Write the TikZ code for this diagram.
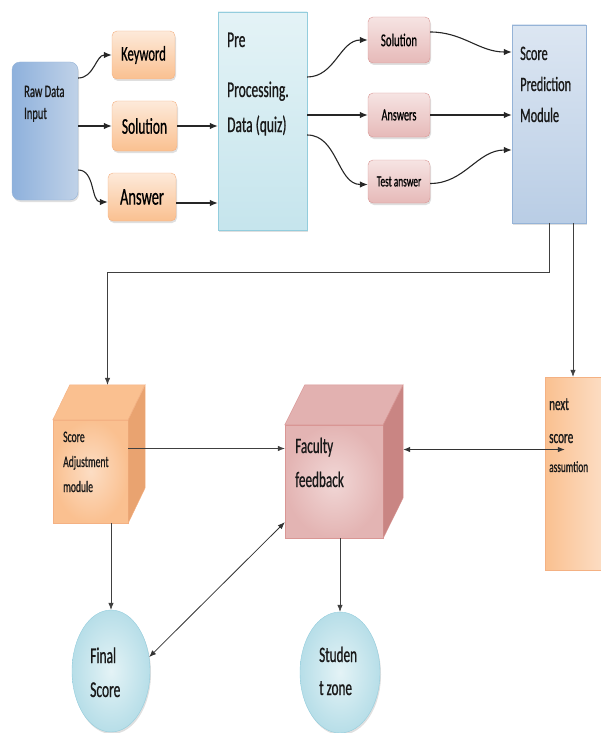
\documentclass[tikz,border=0pt]{standalone}
\usepackage{fontspec}
\setmainfont[FakeStretch=0.6,FakeBold=0.7]{Carlito}
\usetikzlibrary{calc,arrows.meta,positioning,shapes.geometric,shadows}

\definecolor{blueL}{HTML}{DCE6F2}
\definecolor{blueM}{HTML}{B9CDE5}
\definecolor{blueD}{HTML}{8EB1DC}
\definecolor{blueB}{HTML}{95B3D7}
\definecolor{cyanL}{HTML}{E4F3F6}
\definecolor{cyanM}{HTML}{B7DEE8}
\definecolor{cyanB}{HTML}{93CDDD}
\definecolor{orgL}{HTML}{FDEADA}
\definecolor{orgM}{HTML}{FAC090}
\definecolor{orgD}{HTML}{E9A370}
\definecolor{orgB}{HTML}{F4B183}
\definecolor{pinkL}{HTML}{F6E4E3}
\definecolor{pinkM}{HTML}{E6B9B8}
\definecolor{pinkD}{HTML}{C98583}
\definecolor{pinkB}{HTML}{D99694}

\newcommand{\fs}[2]{\fontsize{#1}{#2}\selectfont}

\tikzset{
  every node/.style={inner sep=0pt},
  soft/.style={drop shadow={shadow xshift=1pt,shadow yshift=-2pt,opacity=.25}},
  rawbox/.style={draw=blueB, rounded corners=8pt, left color=blueD, right color=blueM!80!blueL, soft},
  predbox/.style={draw=blueB, top color=blueL, bottom color=blueM, soft},
  prebox/.style={draw=cyanB, top color=cyanL, bottom color=cyanM!80, soft},
  obox/.style={draw=orgB, rounded corners=5pt, top color=orgL, bottom color=orgM, soft},
  pbox/.style={draw=pinkB, rounded corners=5pt, top color=pinkL, bottom color=pinkM, soft},
  ocube/.style={draw=orgB, inner color=orgL!70!orgM, outer color=orgM},
  pcube/.style={draw=pinkB, inner color=pinkL!70!pinkM, outer color=pinkM!90!pinkD},
  nextbox/.style={draw=orgB, left color=orgM, right color=orgL!70!orgM},
  zone/.style={ellipse, draw=cyanB, inner color=cyanL, outer color=cyanM, soft},
  txt/.style={align=left, text=black!90},
  conn/.style={-{Latex[length=8pt,width=6.5pt]}, line width=1.1pt, black!85},
  link/.style={-{Latex[length=7pt,width=5.5pt]}, line width=0.7pt, black!75},
  both/.style={{Latex[length=7pt,width=5.5pt]}-{Latex[length=7pt,width=5.5pt]}, line width=0.8pt, black!80}
}

\begin{document}
\begin{tikzpicture}[x=1pt,y=-1pt]
\useasboundingbox (0,0) rectangle (601,733);

% input side
\node[rawbox, minimum width=66pt, minimum height=138pt] (raw) at (45,131) {};
\node[txt, font=\fs{17.5}{22}, anchor=base west] (raw-t) at (24,119) {Raw Data\\Input};

\node[obox, minimum width=63pt, minimum height=48pt, font=\fs{21}{22}] (key) at (143.5,55) {Keyword};
\node[obox, minimum width=65pt, minimum height=50pt, font=\fs{22.5}{23}] (sol1) at (144.5,126) {Solution};
\node[obox, minimum width=68pt, minimum height=48pt, font=\fs{24}{25}] (ans1) at (142,197) {Answer};

\node[prebox, minimum width=89pt, minimum height=218pt] (pre) at (262.5,121) {};
\node[txt, font=\fs{22.5}{35}, anchor=base west] (pre-t) at (227,132) {Pre\\[15pt]Processing.\\Data (quiz)};

\node[pbox, minimum width=62pt, minimum height=46pt, font=\fs{18}{19}] (sol2) at (399,40) {Solution};
\node[pbox, minimum width=62pt, minimum height=44pt, font=\fs{17}{18}] (ans2) at (399,115) {Answers};
\node[pbox, minimum width=62pt, minimum height=43pt, font=\fs{15.5}{16}] (test) at (399,181.5) {Test answer};

\node[predbox, minimum width=74pt, minimum height=198pt] (pred) at (549,124) {};
\node[txt, font=\fs{20.5}{31}, anchor=base west] (pred-t) at (520,122) {Score\\Prediction\\Module};

\draw[conn] ([yshift=53pt]raw.east) to[out=0,in=180] (key.west);
\draw[conn] (raw.east |- sol1.west) -- (sol1.west);
\draw[conn] ([yshift=-39pt]raw.east) to[out=0,in=180] ([yshift=-5pt]ans1.west);
\draw[conn] (sol1.east) -- (sol1.east -| pre.west);
\draw[conn] ([yshift=-6pt]ans1.east) -- ([yshift=-6pt]ans1.east -| pre.west);
\draw[conn] ([yshift=44pt]pre.east) to[out=0,in=180] (sol2.west);
\draw[conn] (pre.east |- ans2.west) -- (ans2.west);
\draw[conn] ([yshift=-14pt]pre.east) to[out=0,in=180] ([yshift=-3pt]test.west);
\draw[conn] ([yshift=8pt]sol2.east) to[out=0,in=180] ([yshift=72pt]pred.west);
\draw[conn] (ans2.east) -- (ans2.east -| pred.west);
\draw[conn] ([yshift=-2pt]test.east) to[out=0,in=180] ([yshift=-26pt]pred.west);

% lower part
\node[ocube, minimum width=75pt, minimum height=103pt] (adj) at (90.5,471.5) {};
\filldraw[fill=orgM, draw=orgB] (adj.north west) -- ++(17,-35) -- ++(75,0) -- (adj.north east) -- cycle;
\filldraw[fill=orgD, draw=orgB] (adj.north east) -- ++(17,-35) -- ++(0,103) -- (adj.south east) -- cycle;
\coordinate (adjtop) at ($(adj.north)+(17,-35)$);
\node[txt, font=\fs{16}{25}, anchor=base west] (adj-t) at (63,492) {Score\\Adjustment\\module};

\node[pcube, minimum width=98pt, minimum height=113pt] (fac) at (334,481.5) {};
\filldraw[fill=pinkM!85!pinkD, draw=pinkB] (fac.north west) -- ++(20,-40) -- ++(98,0) -- (fac.north east) -- cycle;
\filldraw[fill=pinkD, draw=pinkB] (fac.north east) -- ++(20,-40) -- ++(0,113) -- (fac.south east) -- cycle;
\node[txt, font=\fs{22}{34}, anchor=base west] (fac-t) at (295,487) {Faculty\\feedback};

\node[nextbox, minimum width=58pt, minimum height=193pt] (next) at (574,473.5) {};
\node[txt, font=\fs{18.5}{33}, anchor=base west] (next-t) at (549,472) {next\\score\\[-4pt]{\fs{15.5}{20}assumtion}};

\node[zone, minimum width=78pt, minimum height=122pt] (final) at (111,671) {};
\node[txt, font=\fs{22.5}{34}, anchor=base west] (final-t) at (90,697) {Final\\Score};
\node[zone, minimum width=80pt, minimum height=121pt] (stud) at (340,672.5) {};
\node[txt, font=\fs{22}{33}, anchor=base west] (stud-t) at (319,695) {Studen\\t zone};

\draw[link] (pred.south) -- ++(0,49) -| (adjtop);
\draw[link] ([xshift=24pt]pred.south) -- ([xshift=24pt]pred.south |- next.north);
\draw[link] ([yshift=23pt]adj.east) -- ([yshift=23pt]adj.east -| fac.west);
\draw[both] ([xshift=20pt,yshift=32pt]fac.east) -- ([xshift=20pt,yshift=32pt]fac.east -| next.west);
\draw[link] (adj.south -| final.north) -- (final.north);
\draw[both] ([yshift=16pt]fac.south west) -- (final.20);
\draw[link] (fac.south -| stud.north) -- (stud.north);
\end{tikzpicture}
\end{document}
